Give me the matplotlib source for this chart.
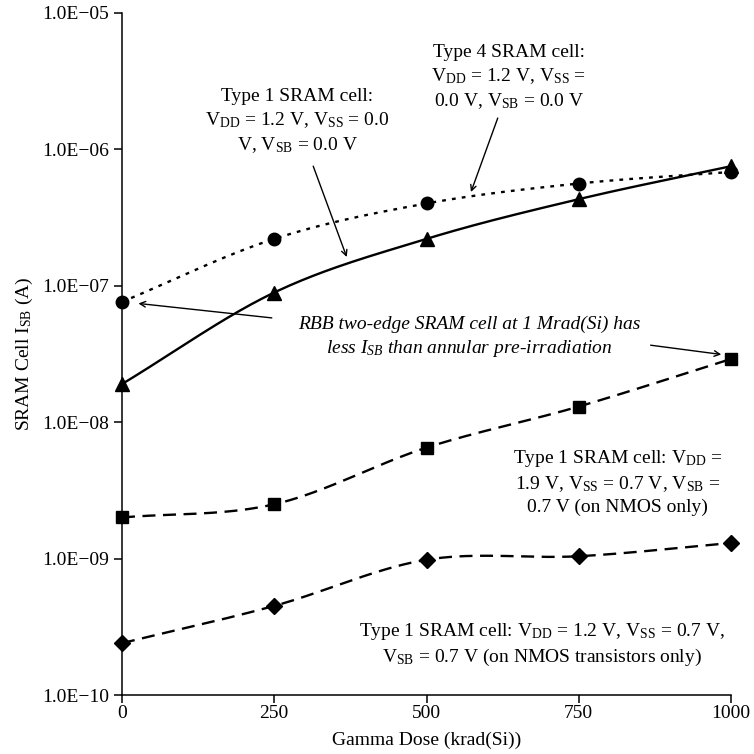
import numpy as np
import matplotlib
matplotlib.use("Agg")
import matplotlib.pyplot as plt
from matplotlib.ticker import FixedLocator, FixedFormatter

plt.rcParams["font.family"] = ["Liberation Serif", "DejaVu Serif"]
plt.rcParams["mathtext.fontset"] = "custom"
plt.rcParams["mathtext.rm"] = "Liberation Serif"
plt.rcParams["mathtext.it"] = "Liberation Serif:italic"

# Gamma dose (krad(Si))
dose = [0, 250, 500, 750, 1000]

# Standby current (A) per cell configuration
type4_vss0 = [7.6e-8, 2.2e-7, 4.0e-7, 5.6e-7, 6.8e-7]
type1_vss0 = [1.9e-8, 8.9e-8, 2.2e-7, 4.3e-7, 7.5e-7]
type1_vdd19 = [2.0e-9, 2.5e-9, 6.5e-9, 1.3e-8, 2.9e-8]
type1_vdd12 = [2.4e-10, 4.5e-10, 9.8e-10, 1.04e-9, 1.3e-9]

y_ticks = [1e-10, 1e-9, 1e-8, 1e-7, 1e-6, 1e-5]
y_tick_labels = ["1.0E\u221210", "1.0E\u221209", "1.0E\u221208",
                 "1.0E\u221207", "1.0E\u221206", "1.0E\u221205"]
x_ticks = [0, 250, 500, 750, 1000]


def smooth(xs, ys, n=40):
    """Catmull-Rom curve through the points, in (x, log10 y) space."""
    x = np.asarray(xs, float)
    ly = np.log10(np.asarray(ys, float))
    px = np.concatenate([[2 * x[0] - x[1]], x, [2 * x[-1] - x[-2]]])
    py = np.concatenate([[2 * ly[0] - ly[1]], ly, [2 * ly[-1] - ly[-2]]])
    outx, outy = [], []
    t = np.linspace(0, 1, n)
    for i in range(1, len(px) - 2):
        for arr, out in ((px, outx), (py, outy)):
            p0, p1, p2, p3 = arr[i - 1], arr[i], arr[i + 1], arr[i + 2]
            seg = 0.5 * ((2 * p1) + (-p0 + p2) * t
                         + (2 * p0 - 5 * p1 + 4 * p2 - p3) * t ** 2
                         + (-p0 + 3 * p1 - 3 * p2 + p3) * t ** 3)
            out.extend(seg if i == 1 else seg[1:])
    return np.array(outx), 10 ** np.array(outy)


fig = plt.figure(figsize=(7.54, 7.54), dpi=100)
ax = fig.add_axes([0.1618, 0.0782, 0.8077, 0.905])

series = [
    (type4_vss0, "o", 9, (0, (1.6, 2.6))),
    (type1_vss0, "^", 9.5, "-"),
    (type1_vdd19, "s", 8, (0, (5.5, 3.2))),
    (type1_vdd12, "D", 8, (0, (5.5, 3.2))),
]
for vals, marker, ms, ls in series:
    sx, sy = smooth(dose, vals)
    ax.plot(sx, sy, color="black", lw=1.7, linestyle=ls, clip_on=False)
    ax.plot(dose, vals, linestyle="none", marker=marker, ms=ms,
            color="black", clip_on=False, zorder=5)

ax.set_yscale("log")
ax.set_xlim(0, 1000)
ax.set_ylim(1e-10, 1e-5)
ax.yaxis.set_major_locator(FixedLocator(y_ticks))
ax.yaxis.set_major_formatter(FixedFormatter(y_tick_labels))
ax.yaxis.set_minor_locator(FixedLocator([]))
ax.set_xticks(x_ticks)
ax.set_xticklabels([str(v) for v in x_ticks])
for side in ("top", "right"):
    ax.spines[side].set_visible(False)
for side in ("left", "bottom"):
    ax.spines[side].set_linewidth(1.1)

fs = 14
ax.tick_params(direction="out", length=5.5, width=1.1, labelsize=fs)
ax.tick_params(axis="y", pad=4)
ax.tick_params(axis="x", pad=2)
ax.set_xlabel("Gamma Dose (krad(Si))", fontsize=fs, labelpad=7)
ax.set_ylabel("SRAM Cell I$_{\\mathrm{SB}}$ (A)", fontsize=fs,
              labelpad=5)

arrow = dict(arrowstyle="->", color="black", lw=1.0,
             shrinkA=0, shrinkB=0)
lsp = 1.35

ax.text(635, 10 ** -5.478,
        "Type 4 SRAM cell:\n"
        "V$_{\\mathrm{DD}}$ = 1.2 V, V$_{\\mathrm{SS}}$ =\n"
        "0.0 V, V$_{\\mathrm{SB}}$ = 0.0 V",
        ha="center", va="center", fontsize=fs, linespacing=lsp)
ax.annotate("", xy=(573, 4.85e-7), xytext=(617, 1.69e-6),
            arrowprops=arrow)

ax.text(288, 10 ** -5.80,
        "Type 1 SRAM cell:\n"
        "V$_{\\mathrm{DD}}$ = 1.2 V, V$_{\\mathrm{SS}}$ = 0.0\n"
        "V, V$_{\\mathrm{SB}}$ = 0.0 V",
        ha="center", va="center", fontsize=fs, linespacing=lsp)
ax.annotate("", xy=(369, 1.62e-7), xytext=(314, 7.5e-7),
            arrowprops=arrow)

ax.text(570, 10 ** -7.378,
        "RBB two-edge SRAM cell at 1 Mrad(Si) has\n"
        "less $I_{SB}$ than annular pre-irradiation",
        ha="center", va="center", fontsize=fs, style="italic",
        linespacing=lsp)
ax.annotate("", xy=(27, 7.4e-8), xytext=(246, 5.8e-8),
            arrowprops=arrow)
ax.annotate("", xy=(984, 3.13e-8), xytext=(868, 3.66e-8),
            arrowprops=arrow)

ax.text(814, 10 ** -8.44,
        "Type 1 SRAM cell: V$_{\\mathrm{DD}}$ =\n"
        "1.9 V, V$_{\\mathrm{SS}}$ = 0.7 V, V$_{\\mathrm{SB}}$ =\n"
        "0.7 V (on NMOS only)",
        ha="center", va="center", fontsize=fs, linespacing=lsp)

ax.text(689, 10 ** -9.63,
        "Type 1 SRAM cell: V$_{\\mathrm{DD}}$ = 1.2 V, "
        "V$_{\\mathrm{SS}}$ = 0.7 V,\n"
        "V$_{\\mathrm{SB}}$ = 0.7 V (on NMOS transistors only)",
        ha="center", va="center", fontsize=fs, linespacing=lsp)

fig.savefig("out.png", dpi=100)
